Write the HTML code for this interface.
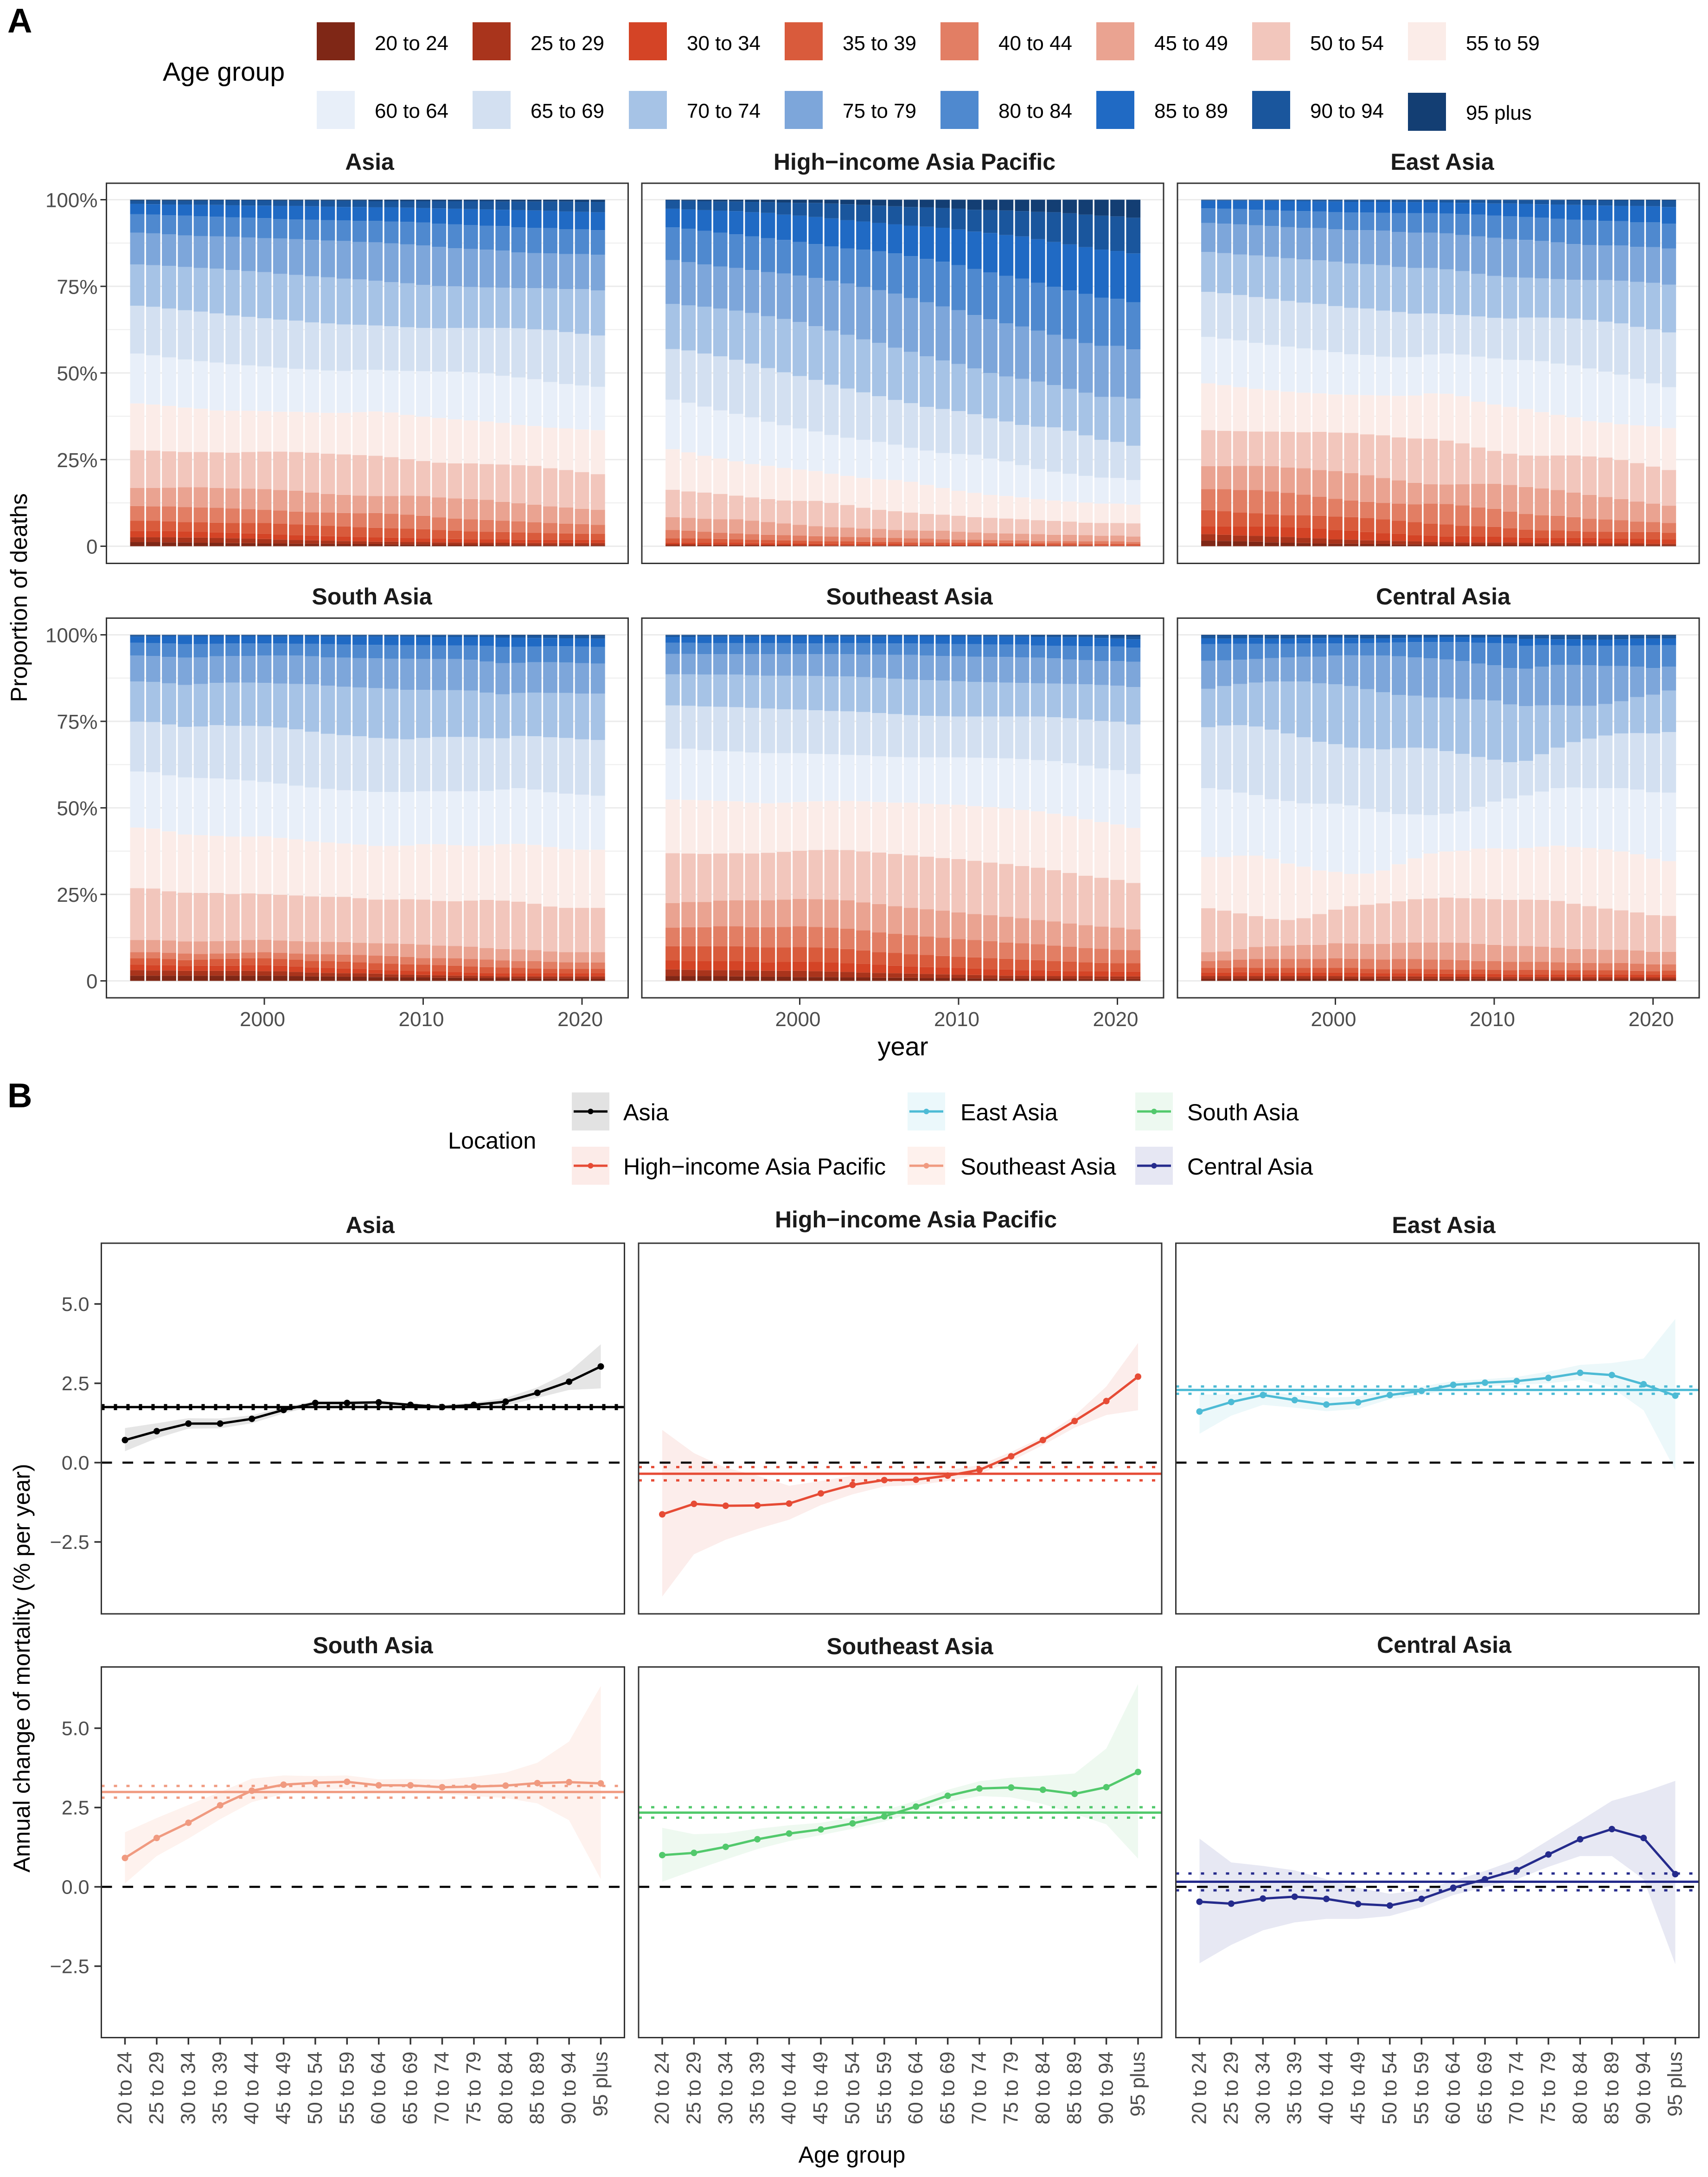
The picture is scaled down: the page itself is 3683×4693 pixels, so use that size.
<!DOCTYPE html>
<html lang="en">
<head>
<meta charset="utf-8">
<title>Proportion of deaths and annual change of mortality by age group in Asia</title>
<style>
html,body{margin:0;padding:0;background:#fff;}
svg{display:block;font-family:"Liberation Sans",Arial,sans-serif;}
.ft{font-size:50px;font-weight:700;fill:#1a1a1a;text-anchor:middle;}
.lg{font-size:44px;fill:#000;}
.lb{font-size:50.3px;fill:#000;}
.at{font-size:50px;fill:#000;}
.pl{font-size:74px;font-weight:700;fill:#000;}
</style>
</head>
<body>
<svg id="chart" xmlns="http://www.w3.org/2000/svg" width="3683" height="4693" viewBox="0 0 3683 4693">
<rect x="0" y="0" width="3683" height="4693" fill="#fff"/>
<g id="plots"></g>

<text class="pl" x="16" y="70">A</text>
<text class="pl" x="16" y="2387">B</text>

<g>
<text x="351" y="174" font-size="57">Age group</text>
<rect x="683" y="48" width="82" height="82" fill="#7f2716"/><text class="lg" x="808" y="108">20 to 24</text>
<rect x="1019" y="48" width="82" height="82" fill="#a9341c"/><text class="lg" x="1144" y="108">25 to 29</text>
<rect x="1356" y="48" width="82" height="82" fill="#d44426"/><text class="lg" x="1481" y="108">30 to 34</text>
<rect x="1692" y="48" width="82" height="82" fill="#d95b3c"/><text class="lg" x="1817" y="108">35 to 39</text>
<rect x="2028" y="48" width="82" height="82" fill="#e27e64"/><text class="lg" x="2153" y="108">40 to 44</text>
<rect x="2364" y="48" width="82" height="82" fill="#eaa391"/><text class="lg" x="2489" y="108">45 to 49</text>
<rect x="2700" y="48" width="82" height="82" fill="#f2c6bc"/><text class="lg" x="2825" y="108">50 to 54</text>
<rect x="3036" y="48" width="82" height="82" fill="#fbece8"/><text class="lg" x="3161" y="108">55 to 59</text>
<rect x="683" y="196" width="82" height="82" fill="#e8eff9"/><text class="lg" x="808" y="254">60 to 64</text>
<rect x="1019" y="196" width="82" height="82" fill="#d3e0f1"/><text class="lg" x="1144" y="254">65 to 69</text>
<rect x="1356" y="196" width="82" height="82" fill="#a6c3e6"/><text class="lg" x="1481" y="254">70 to 74</text>
<rect x="1692" y="196" width="82" height="82" fill="#7da6da"/><text class="lg" x="1817" y="254">75 to 79</text>
<rect x="2028" y="196" width="82" height="82" fill="#4f89cf"/><text class="lg" x="2153" y="254">80 to 84</text>
<rect x="2364" y="196" width="82" height="82" fill="#206ac4"/><text class="lg" x="2489" y="254">85 to 89</text>
<rect x="2700" y="196" width="82" height="82" fill="#1a569d"/><text class="lg" x="2825" y="254">90 to 94</text>
<rect x="3036" y="200" width="82" height="82" fill="#133e73"/><text class="lg" x="3161" y="258">95 plus</text>
</g>

<g>
<text class="lb" x="966" y="2476">Location</text>
<rect x="1233" y="2355" width="81" height="82" fill="#e2e2e2"/>
<line x1="1237" x2="1310" y1="2396" y2="2396" stroke="#000" stroke-width="5"/><circle cx="1273.5" cy="2396" r="6" fill="#000"/>
<text class="lb" x="1344" y="2415">Asia</text>
<rect x="1233" y="2472" width="81" height="82" fill="#fcebe8"/>
<line x1="1237" x2="1310" y1="2513" y2="2513" stroke="#e64b35" stroke-width="5"/><circle cx="1273.5" cy="2513" r="6" fill="#e64b35"/>
<text class="lb" x="1344" y="2532">High−income Asia Pacific</text>
<rect x="1957" y="2355" width="81" height="82" fill="#ebf8fb"/>
<line x1="1961" x2="2034" y1="2396" y2="2396" stroke="#4dbbd5" stroke-width="5"/><circle cx="1997.5" cy="2396" r="6" fill="#4dbbd5"/>
<text class="lb" x="2071" y="2415">East Asia</text>
<rect x="1957" y="2472" width="81" height="82" fill="#fef1ed"/>
<line x1="1961" x2="2034" y1="2513" y2="2513" stroke="#f09a80" stroke-width="5"/><circle cx="1997.5" cy="2513" r="6" fill="#f09a80"/>
<text class="lb" x="2071" y="2532">Southeast Asia</text>
<rect x="2448" y="2355" width="81" height="82" fill="#edf9f0"/>
<line x1="2452" x2="2525" y1="2396" y2="2396" stroke="#52c96c" stroke-width="5"/><circle cx="2488.5" cy="2396" r="6" fill="#52c96c"/>
<text class="lb" x="2560" y="2415">South Asia</text>
<rect x="2448" y="2472" width="81" height="82" fill="#e6e7f3"/>
<line x1="2452" x2="2525" y1="2513" y2="2513" stroke="#252b8c" stroke-width="5"/><circle cx="2488.5" cy="2513" r="6" fill="#252b8c"/>
<text class="lb" x="2560" y="2532">Central Asia</text>
</g>

<text class="ft" x="797" y="366">Asia</text>
<text class="ft" x="1972" y="366">High−income Asia Pacific</text>
<text class="ft" x="3110" y="366">East Asia</text>
<text class="ft" x="802" y="1303">South Asia</text>
<text class="ft" x="1961" y="1303">Southeast Asia</text>
<text class="ft" x="3112" y="1303">Central Asia</text>
<text class="ft" x="798" y="2658">Asia</text>
<text class="ft" x="1975" y="2646">High−income Asia Pacific</text>
<text class="ft" x="3113" y="2658">East Asia</text>
<text class="ft" x="804" y="3564">South Asia</text>
<text class="ft" x="1962" y="3566">Southeast Asia</text>
<text class="ft" x="3114" y="3563">Central Asia</text>

<text class="at" transform="translate(58,1288.5) rotate(-90)" text-anchor="middle">Proportion of deaths</text>
<text transform="translate(64,3596) rotate(-90)" class="at" text-anchor="middle">Annual change of mortality (% per year)</text>
<text x="1947" y="2275" font-size="56" text-anchor="middle">year</text>
<text class="at" x="1837" y="4662" text-anchor="middle">Age group</text>
</svg>

<script>
// ---------- Panel A data: cumulative share (%) at the top of each age band, by year ----------
const years = [1992,1993,1994,1995,1996,1997,1998,1999,2000,2001,2002,2003,2004,2005,2006,2007,2008,2009,2010,2011,2012,2013,2014,2015,2016,2017,2018,2019,2020,2021];
const yearTicks = [2000,2010,2020];
const shareTicks = [0,25,50,75,100];
const shareTickLabels = ['0','25%','50%','75%','100%'];
const shareMinorTicks = [12.5,37.5,62.5,87.5];
const ageBands = ['20 to 24','25 to 29','30 to 34','35 to 39','40 to 44','45 to 49','50 to 54','55 to 59','60 to 64','65 to 69','70 to 74','75 to 79','80 to 84','85 to 89','90 to 94','95 plus'];
const bandColors = ['#7f2716','#a9341c','#d44426','#d95b3c','#e27e64','#eaa391','#f2c6bc','#fbece8','#e8eff9','#d3e0f1','#a6c3e6','#7da6da','#4f89cf','#206ac4','#1a569d','#133e73'];

const asiaStack = [
[1.2,1.2,1.1,1.1,1.0,1.0,.9,.9,.8,.8,.7,.7,.7,.6,.6,.6,.5,.5,.5,.4,.4,.4,.4,.3,.3,.3,.3,.3,.3,.3],
[2.6,2.6,2.6,2.5,2.5,2.4,2.3,2.2,2.1,1.9,1.8,1.7,1.6,1.5,1.4,1.3,1.3,1.2,1.2,1.1,1.1,1.0,1.0,1.0,.9,.9,.9,.9,.9,.9],
[4.4,4.4,4.4,4.3,4.2,4.0,3.9,3.7,3.6,3.4,3.2,3.1,2.9,2.8,2.7,2.6,2.5,2.4,2.3,2.2,2.1,2.0,2.0,2.0,1.9,1.9,1.9,1.9,1.9,1.9],
[7.4,7.4,7.2,7.0,6.9,6.8,6.7,6.7,6.7,6.5,6.3,6.1,5.9,5.7,5.5,5.3,5.2,5.1,4.9,4.7,4.5,4.3,4.2,4.1,4.0,3.9,3.8,3.7,3.6,3.6],
[11.6,11.5,11.5,11.3,11.2,11.1,10.9,10.7,10.5,10.3,10.0,9.8,9.7,9.6,9.5,9.6,9.4,9.1,8.8,8.3,8.0,7.8,7.6,7.4,7.2,6.9,6.7,6.5,6.4,6.2],
[16.8,16.8,16.9,17.0,17.0,16.8,16.7,16.6,16.5,16.2,16.0,15.5,15.1,14.8,14.6,14.5,14.5,14.6,14.5,14.1,13.8,13.6,13.4,12.8,12.4,12.0,11.5,11.2,10.8,10.5],
[27.7,27.6,27.4,27.2,27.2,27.1,27.0,27.2,27.3,27.3,27.2,27.0,26.7,26.5,26.3,26.1,25.7,25.1,24.6,24.1,23.9,23.9,23.7,23.6,23.4,23.2,22.5,22.0,21.4,20.8],
[41.2,40.9,40.5,40.0,39.7,39.2,39.1,39.1,39.0,38.8,38.8,38.6,38.5,38.5,38.7,38.9,38.6,37.9,37.4,37.0,36.6,36.3,36.0,35.6,35.0,34.7,34.2,34.0,33.7,33.5],
[55.6,55.1,54.5,53.9,53.4,53.0,52.5,52.2,51.9,51.5,51.2,51.0,50.7,50.6,50.9,50.9,50.7,50.6,50.5,50.4,50.4,50.2,49.9,49.2,48.7,48.2,47.4,46.8,46.4,46.0],
[69.4,69.1,68.6,68.1,67.7,67.2,66.6,66.2,65.8,65.4,65.1,64.6,64.3,64.0,63.9,63.7,63.5,63.2,63.0,62.9,63.0,63.0,63.0,63.0,62.9,62.6,62.4,61.8,61.3,60.8],
[81.3,81.1,80.9,80.6,80.3,80.1,79.7,79.4,79.1,78.6,78.3,77.9,77.6,77.2,77.0,76.6,76.2,75.9,75.4,75.1,75.0,74.8,74.7,74.6,74.5,74.5,74.4,74.2,74.2,73.8],
[90.5,90.3,90.0,89.7,89.5,89.4,89.3,89.1,88.9,88.8,88.6,88.4,88.2,88.1,87.8,87.7,87.4,87.1,86.8,86.4,86.0,85.8,85.6,85.3,84.8,84.6,84.5,84.3,84.3,84.1],
[95.8,95.7,95.5,95.4,95.2,95.1,94.9,94.8,94.7,94.4,94.3,94.2,94.1,94.0,93.9,93.9,93.7,93.6,93.4,93.1,92.9,92.7,92.5,92.4,92.0,91.9,91.8,91.5,91.5,91.2],
[98.8,98.7,98.6,98.6,98.5,98.5,98.4,98.3,98.3,98.2,98.2,98.1,98.0,97.9,97.9,97.8,97.8,97.7,97.6,97.5,97.4,97.3,97.2,97.1,97.0,96.9,96.8,96.6,96.5,96.4],
[99.7,99.7,99.7,99.7,99.7,99.8,99.8,99.8,99.8,99.7,99.7,99.7,99.7,99.7,99.7,99.6,99.6,99.6,99.6,99.6,99.6,99.6,99.6,99.5,99.5,99.5,99.5,99.5,99.4,99.4]
];
const highIncomeStack = [
[.2,.2,.2,.2,.2,.2,.2,.2,.1,.1,.1,.1,.1,.1,.1,.1,.1,.1,.1,.1,.1,.1,.1,.1,.1,.1,.1,.05,.05,.05],
[.6,.6,.5,.5,.5,.5,.4,.4,.4,.4,.3,.3,.3,.3,.3,.3,.3,.2,.2,.2,.2,.2,.2,.2,.2,.2,.2,.1,.1,.1],
[1.1,1.1,1.1,1.0,1.0,.9,.9,.8,.8,.7,.7,.7,.6,.6,.6,.5,.5,.5,.5,.4,.4,.4,.4,.4,.3,.3,.3,.3,.3,.3],
[2.3,2.3,2.2,2.1,2.0,1.9,1.8,1.7,1.6,1.5,1.4,1.4,1.3,1.2,1.2,1.1,1.1,1.0,1.0,1.0,.9,.9,.8,.8,.8,.8,.7,.7,.7,.65],
[4.7,4.5,4.2,3.9,3.7,3.5,3.3,3.2,3.1,2.9,2.8,2.7,2.6,2.5,2.4,2.3,2.2,2.0,1.9,1.9,1.8,1.7,1.7,1.5,1.5,1.5,1.4,1.5,1.4,1.2],
[8.4,8.2,7.9,7.8,7.8,7.4,7.0,6.6,6.2,5.8,5.5,5.4,5.1,5.0,4.7,4.6,4.5,4.5,4.2,4.0,3.8,3.7,3.6,3.5,3.3,3.3,3.2,3.0,3.1,2.8],
[16.3,15.8,15.5,15.1,14.6,14.1,13.6,13.2,13.1,13.1,12.5,11.9,11.1,10.5,10.1,9.7,9.3,9.1,8.8,8.4,8.2,8.0,7.8,7.5,7.3,7.1,6.8,6.7,6.7,6.6],
[28.0,27.1,26.1,25.3,24.5,23.7,23.2,22.6,22.1,21.7,20.9,20.3,19.7,19.3,19.1,18.6,17.7,16.8,16.0,15.4,14.8,14.5,14.1,13.6,13.2,12.9,12.6,12.3,12.3,12.0],
[42.3,41.4,40.3,39.2,38.2,37.2,35.9,34.9,34.0,33.1,32.1,31.3,30.7,30.1,29.3,28.4,27.6,26.9,26.6,26.4,25.3,24.5,23.4,22.3,21.5,20.9,20.3,19.8,19.7,19.1],
[56.9,56.5,55.6,54.8,53.8,52.7,51.4,50.2,49.1,48.0,46.6,45.5,44.4,43.3,42.2,41.3,40.2,39.6,39.0,38.1,36.9,36.0,35.0,34.5,34.3,33.3,32.0,30.7,30.1,29.0],
[69.9,69.5,69.1,68.6,68.0,67.3,66.4,65.6,64.7,63.5,62.2,61.0,59.7,58.7,57.3,56.1,54.8,53.6,52.6,51.3,50.0,49.0,48.3,47.5,46.5,45.4,44.3,43.1,43.1,42.6],
[82.6,82.0,81.3,80.7,80.3,79.7,79.1,78.7,78.1,77.4,76.6,75.8,74.8,73.9,72.9,71.6,70.4,69.2,68.1,66.7,65.5,64.3,63.4,62.2,61.0,59.8,58.6,57.8,57.8,56.8],
[92.0,91.6,91.0,90.5,90.0,89.4,88.9,88.4,87.8,87.2,86.5,85.9,85.6,85.1,84.5,83.7,82.9,82.1,81.1,80.0,79.0,78.0,77.2,76.0,74.9,73.8,72.8,71.7,71.4,70.4],
[97.4,97.2,97.0,96.8,96.7,96.4,96.2,95.7,95.4,95.0,94.6,94.1,93.7,93.3,92.9,92.5,92.2,91.9,91.4,90.8,90.4,89.8,89.4,88.6,87.8,87.1,86.3,85.6,85.2,84.5],
[99.8,99.7,99.6,99.5,99.5,99.4,99.3,99.2,99.1,99.1,98.9,98.7,98.5,98.3,98.1,97.9,97.8,97.6,97.4,97.1,97.0,96.9,96.7,96.5,96.4,96.1,95.7,95.4,95.2,94.8]
];
const eastAsiaStack = [
[1.6,1.5,1.4,1.3,1.1,1.0,.9,.8,.7,.7,.6,.6,.5,.5,.4,.4,.4,.4,.4,.4,.4,.4,.3,.3,.3,.3,.3,.3,.3,.3],
[3.5,3.3,3.1,3.0,2.8,2.7,2.4,2.3,2.0,1.9,1.7,1.6,1.5,1.4,1.2,1.2,1.1,1.1,1.1,1.1,1.0,.9,.9,.9,.9,.8,.8,.8,.7,.7],
[5.8,5.7,5.7,5.7,5.7,5.5,5.4,5.1,4.7,4.5,4.1,3.8,3.6,3.2,3.1,2.8,2.9,2.8,2.8,2.6,2.5,2.4,2.4,2.4,2.4,2.3,2.2,2.2,2.0,2.0],
[10.4,10.1,9.7,9.5,9.2,8.9,8.9,8.8,8.6,8.4,8.1,7.8,7.4,7.0,6.5,6.3,5.9,5.8,5.6,5.2,4.8,4.6,4.6,4.4,4.2,4.2,4.1,4.1,4.1,3.9],
[16.5,16.5,16.2,16.2,15.8,15.4,14.9,14.3,13.7,13.2,12.8,12.5,12.3,12.1,12.3,12.2,11.8,11.2,10.8,10.0,9.3,8.9,8.8,8.4,7.9,7.7,7.5,7.1,7.0,6.7],
[23.1,23.1,23.2,23.2,23.1,22.7,22.5,22.0,21.7,21.1,20.5,19.7,19.0,18.3,17.9,17.8,17.9,18.0,18.0,17.7,17.1,16.7,16.2,15.5,14.8,14.2,13.6,12.9,12.3,11.7],
[33.5,33.3,33.2,33.1,33.1,33.0,32.9,33.0,32.8,32.7,32.3,32.0,31.4,31.1,31.0,30.5,29.7,28.5,27.5,26.7,26.2,26.1,26.2,26.2,25.9,25.6,24.9,24.0,23.0,22.0],
[47.0,46.5,45.9,45.4,45.0,44.6,44.3,44.1,43.8,43.7,43.6,43.5,43.4,43.5,44.1,44.0,43.3,41.7,40.9,40.2,39.6,38.7,37.9,37.2,36.1,35.7,35.2,34.9,34.6,34.1],
[60.4,59.9,59.4,58.7,58.1,57.6,57.1,56.6,56.0,55.4,55.2,54.7,54.5,54.6,55.3,55.6,55.3,54.7,54.2,53.8,53.7,53.4,52.7,52.2,51.3,50.4,49.5,48.3,47.0,45.9],
[73.4,73.0,72.5,71.9,71.4,70.8,70.3,69.9,69.3,68.8,68.6,68.0,67.6,67.1,67.2,67.0,66.7,66.3,65.9,65.7,66.0,66.0,65.9,65.7,65.3,64.8,64.3,63.3,62.6,61.7],
[84.9,84.6,84.2,83.9,83.5,83.1,82.8,82.5,82.1,81.6,81.4,81.1,80.6,80.3,80.3,79.9,79.4,78.6,78.0,77.6,77.5,77.3,77.1,76.9,76.8,76.8,76.6,76.3,76.0,75.5],
[93.3,93.1,92.9,92.6,92.4,92.1,91.9,91.8,91.5,91.2,91.2,91.1,90.7,90.5,90.5,90.3,89.8,89.4,89.0,88.6,88.4,88.1,87.7,87.2,86.9,86.8,86.8,86.4,86.3,85.9],
[97.5,97.4,97.3,97.1,97.0,96.8,96.7,96.6,96.4,96.3,96.3,96.2,96.1,96.1,96.1,96.0,95.9,95.7,95.4,95.2,95.0,94.8,94.5,94.2,94.1,93.9,93.8,93.5,93.5,93.1],
[99.7,99.7,99.7,99.7,99.7,99.6,99.6,99.5,99.5,99.4,99.4,99.4,99.3,99.3,99.3,99.2,99.1,99.1,98.9,98.9,98.8,98.7,98.6,98.5,98.4,98.3,98.2,98.2,98.1,97.9],
[99.9,99.9,99.9,99.9,99.9,99.9,99.9,99.9,99.9,99.9,99.9,99.9,99.9,99.9,99.9,99.9,99.9,99.9,99.9,99.9,99.9,99.9,99.9,99.8,99.8,99.8,99.8,99.8,99.8,99.8]
];
const southAsiaStack = [
[1.5,1.5,1.5,1.5,1.5,1.5,1.5,1.5,1.5,1.5,1.4,1.3,1.3,1.2,1.2,1.1,1.1,1.0,1.0,.9,.9,.8,.8,.8,.7,.7,.7,.7,.6,.6],
[3.1,3.0,3.0,2.9,2.9,2.9,2.9,2.9,2.8,2.8,2.6,2.4,2.3,2.2,2.2,2.1,1.9,1.8,1.7,1.6,1.5,1.5,1.4,1.3,1.3,1.3,1.3,1.3,1.3,1.3],
[4.7,4.6,4.5,4.3,4.4,4.4,4.4,4.6,4.5,4.4,4.2,3.9,3.8,3.6,3.5,3.2,3.1,3.0,2.8,2.8,2.6,2.4,2.3,2.2,2.2,2.2,2.3,2.2,2.2,2.3],
[6.5,6.5,6.3,6.0,6.1,6.3,6.4,6.5,6.5,6.3,6.1,5.8,5.7,5.6,5.4,5.1,5.0,4.8,4.7,4.6,4.4,4.2,4.0,3.9,3.8,3.6,3.5,3.5,3.5,3.5],
[8.3,8.3,8.1,7.9,7.8,7.9,8.0,8.2,8.3,8.1,7.9,7.7,7.7,7.6,7.5,7.3,7.2,6.9,6.6,6.6,6.5,6.3,6.2,5.9,5.7,5.7,5.5,5.4,5.3,5.3],
[11.8,11.8,11.7,11.4,11.4,11.5,11.6,11.8,11.9,11.7,11.5,11.3,11.3,11.2,11.0,10.9,10.8,10.7,10.5,10.2,10.1,9.9,9.5,9.2,9.1,8.9,8.5,8.3,8.3,8.3],
[26.8,26.7,25.9,25.5,25.4,25.4,25.1,25.3,25.1,24.9,24.7,24.4,24.3,24.3,23.9,23.5,23.5,23.6,23.5,23.1,23.0,23.2,23.4,23.2,22.9,22.3,21.5,21.1,21.1,21.1],
[44.3,44.0,43.2,42.3,42.1,41.9,41.7,41.7,41.8,41.3,40.9,40.3,40.0,39.7,39.4,39.0,39.0,39.1,39.5,39.5,39.2,39.0,39.1,39.5,39.6,39.3,38.7,38.1,37.9,37.9],
[60.5,60.3,59.4,58.8,58.6,58.5,58.2,57.9,57.5,57.0,56.4,55.9,55.5,55.1,54.9,54.6,54.6,54.6,54.8,54.8,54.8,54.8,54.9,55.3,55.7,55.3,54.5,54.1,53.8,53.5],
[74.9,74.8,74.1,73.4,73.5,73.9,73.7,73.7,73.6,73.2,72.7,72.0,71.4,71.0,70.7,70.2,70.0,69.8,70.2,70.5,70.5,70.5,70.1,70.1,70.8,70.7,70.4,70.2,69.8,69.6],
[86.5,86.4,86.0,85.5,85.8,86.1,86.2,86.2,86.1,85.9,85.8,85.7,85.3,85.0,84.8,84.6,84.4,84.1,84.1,84.0,84.0,83.9,83.3,82.8,83.2,83.3,83.2,83.2,83.0,83.0],
[94.0,93.9,93.6,93.4,93.5,93.8,93.9,93.9,94.0,94.0,94.0,93.8,93.5,93.4,93.3,93.2,93.1,93.1,93.0,93.0,93.0,92.8,92.3,91.8,91.9,92.1,92.1,92.0,91.8,91.7],
[97.7,97.6,97.5,97.3,97.3,97.4,97.5,97.5,97.5,97.5,97.4,97.4,97.3,97.2,97.1,97.1,97.0,97.0,97.0,96.9,96.9,96.9,96.8,96.5,96.5,96.6,96.7,96.7,96.6,96.5],
[99.5,99.5,99.6,99.7,99.6,99.6,99.6,99.6,99.6,99.5,99.6,99.6,99.5,99.5,99.5,99.5,99.5,99.5,99.4,99.4,99.4,99.4,99.4,99.2,99.2,99.1,99.1,99.0,99.0,98.9],
[99.9,99.9,99.9,99.9,99.9,99.9,99.9,99.9,99.9,99.9,99.9,99.9,99.9,99.9,99.9,99.9,99.9,99.9,99.9,99.9,99.9,99.9,99.9,99.8,99.8,99.8,99.8,99.8,99.7,99.7]
];
const southeastAsiaStack = [
[1.4,1.4,1.4,1.4,1.3,1.3,1.2,1.2,1.1,1.1,1.1,1.0,1.0,.9,.9,.9,.8,.8,.8,.7,.7,.7,.6,.6,.6,.6,.5,.5,.5,.5],
[3.3,3.2,3.1,3.1,3.1,3.0,2.9,2.9,2.9,2.8,2.7,2.6,2.4,2.3,2.2,2.1,2.0,1.9,1.8,1.7,1.6,1.5,1.5,1.4,1.4,1.4,1.4,1.3,1.3,1.3],
[5.9,5.8,5.7,5.7,5.7,5.6,5.4,5.5,5.6,5.5,5.4,5.1,4.9,4.7,4.4,4.2,4.0,3.9,3.8,3.6,3.4,3.3,3.1,3.1,2.9,2.8,2.8,2.8,2.7,2.7],
[10.0,10.0,10.0,10.0,10.0,9.8,9.7,9.7,9.8,9.7,9.5,9.2,8.8,8.3,8.1,7.7,7.5,7.2,7.0,6.8,6.6,6.4,6.1,6.0,5.7,5.6,5.4,5.2,5.1,5.1],
[15.4,15.5,15.5,15.8,15.8,15.5,15.5,15.6,15.8,15.6,15.4,15.1,14.6,14.0,13.6,13.2,12.8,12.5,12.1,11.8,11.5,11.1,10.9,10.6,10.2,9.9,9.5,9.3,9.0,8.9],
[22.5,22.8,22.8,23.2,23.3,23.3,23.3,23.5,23.7,23.6,23.5,23.3,22.7,22.2,21.6,21.1,20.7,20.3,19.8,19.3,19.0,18.5,18.1,17.6,17.2,16.6,16.1,15.7,15.4,14.9],
[36.9,36.8,36.7,36.8,36.9,36.8,37.0,37.3,37.6,37.8,37.9,37.8,37.4,37.1,36.7,36.3,35.9,35.5,35.2,34.7,34.2,33.8,33.2,32.7,32.0,31.2,30.4,29.8,29.2,28.3],
[52.4,52.3,52.2,52.0,51.9,51.5,51.3,51.5,51.7,51.9,52.0,52.0,51.9,51.7,51.5,51.5,51.2,51.0,50.9,50.5,50.2,49.9,49.4,49.0,48.3,47.6,46.7,45.9,45.2,44.2],
[67.1,67.1,66.7,66.4,66.3,66.0,65.8,65.8,65.8,65.6,65.5,65.3,65.2,64.9,64.7,64.6,64.6,64.6,64.6,64.5,64.4,64.3,64.1,63.8,63.5,62.9,62.2,61.4,60.9,59.8],
[79.6,79.5,79.3,79.2,79.1,78.9,78.7,78.5,78.4,78.2,78.0,77.9,77.7,77.4,77.1,76.8,76.6,76.5,76.4,76.4,76.4,76.4,76.4,76.4,76.2,75.9,75.5,75.1,74.9,74.1],
[88.6,88.6,88.5,88.5,88.5,88.3,88.2,88.2,88.2,88.1,88.0,88.0,87.8,87.6,87.3,87.1,86.9,86.8,86.6,86.4,86.3,86.2,86.1,86.0,85.9,85.8,85.7,85.5,85.3,84.9],
[94.5,94.5,94.4,94.4,94.4,94.4,94.4,94.4,94.4,94.4,94.4,94.4,94.3,94.3,94.2,94.2,94.0,93.9,93.8,93.7,93.6,93.6,93.5,93.4,93.2,92.9,92.7,92.4,92.4,92.2],
[97.7,97.7,97.6,97.6,97.6,97.6,97.6,97.6,97.5,97.5,97.6,97.6,97.6,97.5,97.5,97.5,97.4,97.4,97.3,97.3,97.2,97.2,97.2,96.9,96.8,96.8,96.7,96.7,96.6,96.3],
[99.4,99.4,99.5,99.5,99.5,99.5,99.6,99.6,99.6,99.6,99.5,99.5,99.5,99.5,99.6,99.6,99.6,99.6,99.6,99.5,99.5,99.5,99.5,99.4,99.3,99.3,99.3,99.1,98.9,98.7],
[99.9,99.9,99.9,99.9,99.9,99.9,99.9,99.9,99.9,99.9,99.9,99.9,99.9,99.9,99.9,99.9,99.9,99.9,99.9,99.9,99.9,99.9,99.9,99.8,99.8,99.8,99.7,99.7,99.6,99.6]
];
const centralAsiaStack = [
[.6,.6,.6,.6,.6,.6,.6,.6,.6,.6,.6,.5,.5,.5,.5,.5,.5,.5,.5,.5,.5,.5,.4,.4,.4,.4,.4,.4,.4,.4],
[1.4,1.4,1.4,1.4,1.4,1.4,1.4,1.4,1.4,1.3,1.3,1.3,1.3,1.3,1.2,1.2,1.2,1.2,1.1,1.1,1.1,1.1,1.1,1.1,1.1,1.1,1.0,1.0,1.0,1.0],
[2.4,2.4,2.5,2.4,2.3,2.4,2.4,2.4,2.4,2.4,2.3,2.2,2.2,2.2,2.1,2.1,2.0,2.0,2.0,1.9,1.9,1.9,1.9,1.9,1.9,1.9,1.9,1.8,1.8,1.8],
[3.8,3.7,3.9,3.8,3.8,3.8,3.8,3.8,3.8,3.8,3.5,3.4,3.4,3.5,3.4,3.3,3.2,3.3,3.2,3.1,3.2,3.2,3.1,3.1,3.1,3.1,3.1,2.9,2.8,3.0],
[5.7,5.9,6.1,6.3,6.3,6.3,6.3,6.3,6.5,6.4,6.3,6.2,6.3,6.3,6.2,6.1,6.0,5.7,5.7,5.5,5.5,5.5,5.4,5.2,5.2,5.1,5.2,5.0,4.8,4.8],
[8.3,8.5,9.2,9.8,10.0,10.2,10.4,10.4,10.9,10.8,10.7,10.7,11.0,11.1,11.1,11.1,11.0,10.7,10.4,10.1,10.1,9.9,9.6,9.2,9.2,9.0,9.0,8.8,8.4,8.4],
[21.0,20.3,19.5,18.7,17.9,17.6,18.1,19.3,20.6,21.6,22.0,22.4,23.0,23.6,23.8,24.1,23.9,23.8,23.6,23.4,23.5,23.4,23.1,22.3,21.6,20.9,20.4,19.8,19.0,18.8],
[35.8,35.8,36.2,36.2,35.3,33.9,33.0,31.9,31.5,30.9,31.0,31.9,33.7,35.4,36.8,37.4,37.6,38.2,38.3,38.1,38.4,38.8,39.1,38.7,38.4,38.0,37.4,36.6,35.3,34.6],
[55.7,55.3,54.4,53.7,52.5,52.0,51.3,51.2,51.2,50.7,49.7,48.8,48.2,48.1,47.9,48.3,49.0,50.3,51.8,52.7,53.6,54.7,55.7,55.9,55.7,55.7,55.7,55.3,54.5,54.4],
[73.3,73.8,73.9,73.5,72.6,71.5,70.4,69.1,68.4,67.4,67.2,66.9,67.3,67.4,67.2,66.4,65.6,64.7,63.9,63.2,63.6,65.5,67.4,69.0,70.0,70.9,71.5,71.6,71.5,71.9],
[84.4,85.2,85.8,86.2,86.5,86.5,86.5,86.0,85.7,85.2,84.3,83.4,82.6,82.4,81.9,81.9,81.5,81.3,81.0,79.9,79.4,79.6,79.7,79.5,79.5,80.0,80.8,82.0,82.7,83.9],
[92.5,92.6,92.8,93.0,93.3,93.5,93.7,93.7,94.0,94.1,94.0,94.0,93.8,93.5,93.2,92.9,92.4,91.7,91.2,90.4,90.2,90.8,91.3,91.3,91.2,91.0,91.0,90.8,90.4,90.8],
[97.3,97.4,97.4,97.4,97.4,97.4,97.5,97.5,97.5,97.5,97.6,97.7,97.8,97.9,97.9,97.9,97.9,97.7,97.6,97.5,96.8,97.0,97.0,96.8,96.9,96.8,96.9,96.9,97.0,97.0],
[99.0,98.9,99.0,99.1,98.9,98.9,99.1,99.1,99.2,99.1,98.9,99.0,99.1,99.2,99.2,99.3,99.3,99.2,99.3,99.2,98.8,98.9,98.7,98.7,98.6,98.6,98.7,98.9,98.9,98.9],
[99.8,99.8,99.8,99.8,99.8,99.8,99.8,99.8,99.8,99.8,99.8,99.8,99.8,99.8,99.8,99.8,99.8,99.8,99.8,99.8,99.7,99.7,99.7,99.7,99.7,99.7,99.7,99.7,99.7,99.7]
];

// ---------- Panel B data: annual change of mortality (% per year) by age group ----------
const changeTicks = [5,2.5,0,-2.5];
const changeTickLabels = ['5.0','2.5','0.0','\u22122.5'];

const asiaChange = [.71,.99,1.23,1.23,1.38,1.66,1.88,1.88,1.90,1.82,1.75,1.82,1.92,2.20,2.55,3.03];
const asiaUpper = [1.09,1.24,1.40,1.39,1.49,1.75,1.94,1.95,1.95,1.87,1.82,1.89,2.04,2.37,2.86,3.73];
const asiaLower = [.36,.77,1.07,1.08,1.24,1.55,1.79,1.79,1.81,1.72,1.66,1.71,1.79,2.04,2.29,2.34];
const asiaOverall = [1.75,1.69,1.81];

const highIncomeChange = [-1.63,-1.30,-1.36,-1.35,-1.29,-.97,-.70,-.55,-.54,-.41,-.23,.20,.71,1.31,1.94,2.71];
const highIncomeUpper = [1.03,.30,-.16,-.41,-.73,-.58,-.41,-.35,-.31,-.24,-.08,.34,.81,1.48,2.40,3.77];
const highIncomeLower = [-4.22,-2.89,-2.43,-2.09,-1.80,-1.34,-1.00,-.75,-.71,-.58,-.37,.05,.55,1.10,1.50,1.65];
const highIncomeOverall = [-.35,-.56,-.14];

const eastAsiaChange = [1.61,1.91,2.13,1.97,1.83,1.90,2.13,2.26,2.45,2.52,2.57,2.67,2.83,2.76,2.47,2.11];
const eastAsiaUpper = [2.15,2.15,2.25,2.13,2.05,2.08,2.28,2.40,2.57,2.63,2.70,2.87,3.08,3.14,3.28,4.53];
const eastAsiaLower = [.91,1.48,1.82,1.73,1.62,1.69,2.00,2.13,2.32,2.40,2.45,2.50,2.61,2.36,1.65,-.24];
const eastAsiaOverall = [2.29,2.17,2.40];

const southAsiaChange = [.91,1.54,2.02,2.57,3.03,3.22,3.28,3.31,3.20,3.20,3.14,3.16,3.19,3.27,3.30,3.26];
const southAsiaUpper = [1.72,2.17,2.58,2.99,3.41,3.51,3.49,3.51,3.39,3.40,3.38,3.47,3.60,3.91,4.58,6.33];
const southAsiaLower = [.11,.97,1.52,2.13,2.67,2.93,3.04,3.08,2.99,2.99,2.93,2.86,2.80,2.63,2.10,.24];
const southAsiaOverall = [2.99,2.81,3.18];

const southeastAsiaChange = [1.00,1.07,1.26,1.50,1.68,1.81,2.00,2.22,2.53,2.87,3.10,3.13,3.06,2.93,3.14,3.62];
const southeastAsiaUpper = [1.86,1.66,1.69,1.83,1.94,2.02,2.19,2.41,2.71,3.06,3.33,3.44,3.50,3.57,4.36,6.39];
const southeastAsiaLower = [.16,.52,.86,1.19,1.44,1.63,1.83,2.06,2.36,2.67,2.86,2.82,2.61,2.30,1.97,.89];
const southeastAsiaOverall = [2.34,2.18,2.51];

const centralAsiaChange = [-.47,-.53,-.37,-.31,-.38,-.54,-.59,-.38,-.03,.24,.53,1.02,1.50,1.82,1.54,.40];
const centralAsiaUpper = [1.52,.77,.66,.52,.24,-.03,-.22,-.11,.19,.50,.86,1.47,2.08,2.71,2.99,3.34];
const centralAsiaLower = [-2.41,-1.83,-1.37,-1.12,-1.01,-1.01,-.92,-.64,-.26,-.01,.24,.63,.97,.97,.24,-2.44];
const centralAsiaOverall = [.16,-.11,.42];

// ---------- Rendering ----------
const SVGNS = 'http://www.w3.org/2000/svg';
const root = document.getElementById('plots');
function mk(tag, attrs, parent) {
  const el = document.createElementNS(SVGNS, tag);
  for (const k in attrs) el.setAttribute(k, attrs[k]);
  (parent || root).appendChild(el);
  return el;
}

// Panel A axis functions
function shareY(frame, pct) { return frame.y0 - pct / 100 * (frame.y0 - frame.y100); }
function yearX(frame, yr) { return frame.x + 340.5 + (yr - 2000) * 34.25; }

function drawStackFrame(frame, stack, slug, showY, showX) {
  const g = mk('g', {});
  
  
  shareMinorTicks.forEach(function (t) {
    const el = mk('line', {x1: frame.x, x2: frame.x + frame.w, y1: shareY(frame, t), y2: shareY(frame, t), stroke: '#ededed', 'stroke-width': 2}, g);
    
    
  });
  shareTicks.forEach(function (t) {
    const el = mk('line', {x1: frame.x, x2: frame.x + frame.w, y1: shareY(frame, t), y2: shareY(frame, t), stroke: '#ebebeb', 'stroke-width': 3}, g);
    
    
  });
  years.forEach(function (yr, i) {
    const bw = 30.8;
    let lower = 0;
    ageBands.forEach(function (band, b) {
      const upper = b < stack.length ? stack[b][i] : 100;
      const yTop = shareY(frame, upper);
      const yBot = shareY(frame, lower);
      const el = mk('rect', {x: yearX(frame, yr) - bw / 2, y: yTop, width: bw, height: Math.max(0, yBot - yTop), fill: bandColors[b]}, g);
      
      
      lower = upper;
    });
  });
  const border = mk('rect', {x: frame.x, y: frame.top, width: frame.w, height: frame.bottom - frame.top, fill: 'none', stroke: '#333', 'stroke-width': 3}, g);
  
  
  if (showY) {
    shareTicks.forEach(function (t, i) {
      const tk = mk('line', {x1: frame.x - 13, x2: frame.x, y1: shareY(frame, t), y2: shareY(frame, t), stroke: '#333', 'stroke-width': 3}, g);
      
      
      const lb = mk('text', {x: frame.x - 19, y: shareY(frame, t) + 16, 'text-anchor': 'end', 'font-size': 44, fill: '#4d4d4d'}, g);
      lb.textContent = shareTickLabels[i];
      
      
    });
  }
  if (showX) {
    yearTicks.forEach(function (t) {
      const tk = mk('line', {x1: yearX(frame, t), x2: yearX(frame, t), y1: frame.bottom, y2: frame.bottom + 15, stroke: '#333', 'stroke-width': 3}, g);
      
      
      const lb = mk('text', {x: yearX(frame, t) - 4, y: frame.bottom + 61, 'text-anchor': 'middle', 'font-size': 44, fill: '#4d4d4d'}, g);
      lb.textContent = String(t);
      
      
    });
  }
}

// Panel B axis functions
function changeY(frame, v) { return frame.y0 - v * 68.4; }
function ageX(frame, i) { return frame.x + 51 + i * (frame.w - 102) / (ageBands.length - 1); }

function drawChangeFrame(frame, series, upper, lower, overall, color, ribbon, slug, showY, showX) {
  const g = mk('g', {});
  
  
  const up = upper.map(function (v, i) { return ageX(frame, i) + ',' + changeY(frame, v); });
  const lo = lower.map(function (v, i) { return ageX(frame, i) + ',' + changeY(frame, v); }).reverse();
  const band = mk('polygon', {points: up.concat(lo).join(' '), fill: ribbon}, g);
  
  
  const zero = mk('line', {x1: frame.x, x2: frame.x + frame.w, y1: changeY(frame, 0), y2: changeY(frame, 0), stroke: '#000', 'stroke-width': 4.5, 'stroke-dasharray': '23 22.6'}, g);
  
  
  overall.forEach(function (v, i) {
    const attrs = {x1: frame.x, x2: frame.x + frame.w, y1: changeY(frame, v), y2: changeY(frame, v), stroke: color, 'stroke-width': 5};
    if (i > 0) attrs['stroke-dasharray'] = '7 20';
    const el = mk('line', attrs, g);
    
    
  });
  const path = mk('polyline', {points: series.map(function (v, i) { return ageX(frame, i) + ',' + changeY(frame, v); }).join(' '), fill: 'none', stroke: color, 'stroke-width': 5, 'stroke-linejoin': 'round'}, g);
  
  
  series.forEach(function (v, i) {
    const pt = mk('circle', {cx: ageX(frame, i), cy: changeY(frame, v), r: 7, fill: color}, g);
    
    
  });
  const border = mk('rect', {x: frame.x, y: frame.top, width: frame.w, height: frame.bottom - frame.top, fill: 'none', stroke: '#333', 'stroke-width': 3}, g);
  
  
  if (showY) {
    changeTicks.forEach(function (t, i) {
      const tk = mk('line', {x1: frame.x - 15, x2: frame.x, y1: changeY(frame, t), y2: changeY(frame, t), stroke: '#333', 'stroke-width': 3.5}, g);
      
      
      const lb = mk('text', {x: frame.x - 26, y: changeY(frame, t) + 15, 'text-anchor': 'end', 'font-size': 43, fill: '#4d4d4d'}, g);
      lb.textContent = changeTickLabels[i];
      
      
    });
  }
  if (showX) {
    ageBands.forEach(function (band2, i) {
      const x = ageX(frame, i);
      const tk = mk('line', {x1: x, x2: x, y1: frame.bottom, y2: frame.bottom + 15, stroke: '#333', 'stroke-width': 3.5}, g);
      
      
      const lb = mk('text', {transform: 'translate(' + (x + 14) + ',' + (frame.bottom + 30) + ') rotate(-90)', 'text-anchor': 'end', 'font-size': 43.5, fill: '#4d4d4d'}, g);
      lb.textContent = band2;
      
      
    });
  }
}

// Frames (layout only)
const rowA1 = {top: 395, bottom: 1214.5, y100: 430.5, y0: 1177.5};
const rowA2 = {top: 1332.5, bottom: 2151, y100: 1368.5, y0: 2114.5};
function frameA(row, x) { return {x: x, w: 1125, top: row.top, bottom: row.bottom, y100: row.y100, y0: row.y0}; }
drawStackFrame(frameA(rowA1, 229.5), asiaStack, 'asia', true, false);
drawStackFrame(frameA(rowA1, 1384), highIncomeStack, 'high-income', false, false);
drawStackFrame(frameA(rowA1, 2539), eastAsiaStack, 'east-asia', false, false);
drawStackFrame(frameA(rowA2, 229.5), southAsiaStack, 'south-asia', true, true);
drawStackFrame(frameA(rowA2, 1384), southeastAsiaStack, 'southeast-asia', false, true);
drawStackFrame(frameA(rowA2, 2539), centralAsiaStack, 'central-asia', false, true);

const rowB1 = {top: 2680, bottom: 3479, y0: 3153};
const rowB2 = {top: 3593.5, bottom: 4392.5, y0: 4067.5};
function frameB(row, x) { return {x: x, w: 1128, top: row.top, bottom: row.bottom, y0: row.y0}; }
drawChangeFrame(frameB(rowB1, 218.5), asiaChange, asiaUpper, asiaLower, asiaOverall, '#000000', '#e5e5e5', 'asia', true, false);
drawChangeFrame(frameB(rowB1, 1377), highIncomeChange, highIncomeUpper, highIncomeLower, highIncomeOverall, '#e64b35', '#fcedeb', 'high-income', false, false);
drawChangeFrame(frameB(rowB1, 2535.5), eastAsiaChange, eastAsiaUpper, eastAsiaLower, eastAsiaOverall, '#4dbbd5', '#ecf8fa', 'east-asia', false, false);
drawChangeFrame(frameB(rowB2, 218.5), southAsiaChange, southAsiaUpper, southAsiaLower, southAsiaOverall, '#f09a80', '#fef2ee', 'south-asia', true, true);
drawChangeFrame(frameB(rowB2, 1377), southeastAsiaChange, southeastAsiaUpper, southeastAsiaLower, southeastAsiaOverall, '#52c96c', '#eef9f0', 'southeast-asia', false, true);
drawChangeFrame(frameB(rowB2, 2535.5), centralAsiaChange, centralAsiaUpper, centralAsiaLower, centralAsiaOverall, '#252b8c', '#e7e8f3', 'central-asia', false, true);
</script>
</body>
</html>
